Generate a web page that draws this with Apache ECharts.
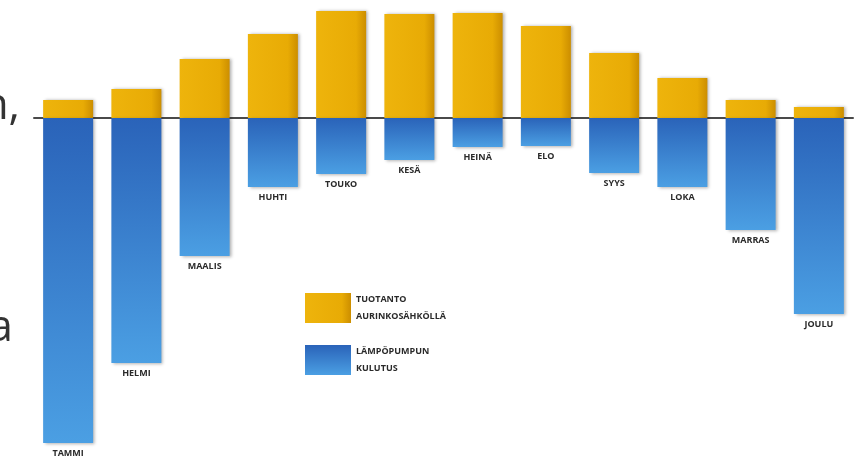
<!DOCTYPE html>
<html>
<head>
<meta charset="utf-8">
<script src="https://cdn.jsdelivr.net/npm/echarts@6/dist/echarts.min.js"></script>
<style>html,body{margin:0;padding:0;background:#fff;}#c{width:856px;height:462px;}</style>
</head>
<body>
<div id="c"></div>
<script>
const months = ['TAMMI','HELMI','MAALIS','HUHTI','TOUKO','KESÄ','HEINÄ','ELO','SYYS','LOKA','MARRAS','JOULU'];
const production = [18, 29, 59, 84, 107, 104, 105, 92, 65, 40, 18, 11];
const consumption = [-325, -245, -138, -69, -56, -42, -29, -28, -55, -69, -112, -196];
const seriesNames = ['TUOTANTO\nAURINKOSÄHKÖLLÄ', 'LÄMPÖPUMPUN\nKULUTUS'];

const chart = echarts.init(document.getElementById('c'), null, {renderer: 'canvas'});
const yellow = new echarts.graphic.LinearGradient(0, 0, 1, 0, [
  {offset: 0, color: '#eeb40c'}, {offset: 0.8, color: '#e8ab05'}, {offset: 1, color: '#cc8e00'}
]);
const blue = new echarts.graphic.LinearGradient(0, 0, 0, 1, [
  {offset: 0, color: '#2a63b9'}, {offset: 1, color: '#4b9fe3'}
]);
chart.setOption({
  backgroundColor: '#ffffff',
  animation: false,
  grid: {left: 34, right: 3, top: 0, bottom: 0},
  xAxis: {
    type: 'category', data: months,
    axisLine: {show: true, onZero: true, lineStyle: {color: '#4a4a4a', width: 2}},
    axisTick: {show: false}, axisLabel: {show: false}, splitLine: {show: false}
  },
  yAxis: {type: 'value', min: -344, max: 118, show: false, splitLine: {show: false}},
  legend: {
    orient: 'vertical', left: 305, top: 291, padding: 0,
    itemWidth: 46, itemHeight: 30, itemGap: 18,
    icon: 'rect',
    textStyle: {fontSize: 9, fontWeight: 'bold', color: '#2a2a2a', lineHeight: 17, fontFamily: 'Open Sans'},
    data: seriesNames
  },
  series: [
    {
      name: seriesNames[0], type: 'bar', data: production, barWidth: 50, barGap: '-100%', z: 2,
      itemStyle: {color: yellow, shadowColor: 'rgba(0,0,0,0.3)', shadowBlur: 3, shadowOffsetX: 2, shadowOffsetY: 0}
    },
    {
      name: seriesNames[1], type: 'bar', data: consumption, barWidth: 50, z: 2,
      itemStyle: {color: blue, shadowColor: 'rgba(0,0,0,0.3)', shadowBlur: 3, shadowOffsetX: 2, shadowOffsetY: 1},
      label: {
        show: true, position: 'bottom', distance: 6,
        formatter: p => months[p.dataIndex],
        fontSize: 9, fontWeight: 'bold', color: '#2a2a2a', fontFamily: 'Open Sans'
      }
    }
  ],
  graphic: [
    {type: 'text', style: {text: 'n,', x: 20, y: 106, align: 'right', verticalAlign: 'middle', font: '44px "Open Sans"', fill: '#333333'}},
    {type: 'text', style: {text: 'a', x: 13, y: 328, align: 'right', verticalAlign: 'middle', font: '44px "Open Sans"', fill: '#333333'}}
  ]
});
</script>
</body>
</html>
